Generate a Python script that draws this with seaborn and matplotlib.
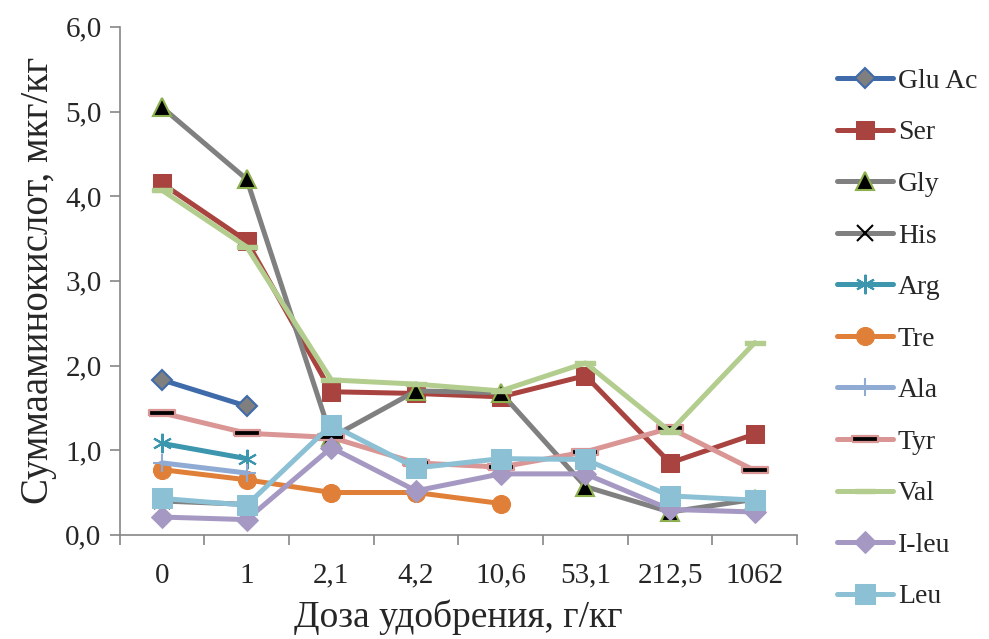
import numpy as np
import pandas as pd
import matplotlib
matplotlib.use("Agg")
import matplotlib.pyplot as plt
import seaborn as sns
from matplotlib.ticker import FuncFormatter, MultipleLocator, FixedLocator

# ---- data ----
doses = ["0", "1", "2,1", "4,2", "10,6", "53,1", "212,5", "1062"]
glu_ac = [1.83, 1.52]
ser = [4.15, 3.47, 1.69, 1.67, 1.63, 1.88, 0.85, 1.19]
gly = [5.05, 4.20, 1.15, 1.70, 1.68, 0.57, 0.27, 0.42]
his = [0.40, 0.36]
arg = [1.08, 0.90]
tre = [0.77, 0.65, 0.50, 0.50, 0.37]
ala = [0.85, 0.73]
tyr = [1.44, 1.20, 1.15, 0.85, 0.80, 0.98, 1.26, 0.76]
val = [4.07, 3.40, 1.83, 1.78, 1.70, 2.03, 1.22, 2.27]
ileu = [0.21, 0.18, 1.03, 0.52, 0.72, 0.72, 0.30, 0.27]
leu = [0.43, 0.35, 1.30, 0.79, 0.90, 0.89, 0.46, 0.41]

series_names = ["Glu Ac", "Ser", "Gly", "His", "Arg", "Tre", "Ala", "Tyr", "Val", "I-leu", "Leu"]
series_vals = [glu_ac, ser, gly, his, arg, tre, ala, tyr, val, ileu, leu]

sns.set_theme(style="white")
plt.rcParams['font.family'] = ['Liberation Serif', 'DejaVu Serif']

fig = plt.figure(figsize=(9.89, 6.39), dpi=100)
ax = fig.add_axes([0.121, 0.163, 0.685, 0.795])

bar_tyr = [(-1, -0.2), (1, -0.2), (1, 0.2), (-1, 0.2), (-1, -0.2)]
bar_val = [(-1, -0.17), (1, -0.17), (1, 0.17), (-1, 0.17), (-1, -0.17)]

styles = {
    "Glu Ac": dict(color="#3F6BAA", marker="D", markersize=10, markerfacecolor="#7F7F7F", markeredgecolor="#3F6BAA", markeredgewidth=1.5),
    "Ser":    dict(color="#A9433F", marker="s", markersize=13, markerfacecolor="#A9433F", markeredgecolor="#A9433F"),
    "Gly":    dict(color="#808080", marker="^", markersize=13, markerfacecolor="black", markeredgecolor="#8DB04E", markeredgewidth=1.5),
    "His":    dict(color="#808080", marker="x", markersize=11, markeredgecolor="black", markeredgewidth=1.5),
    "Arg":    dict(color="#3C96AD", marker=(6, 2, 0), markersize=14, markeredgecolor="#3C96AD", markeredgewidth=1.5),
    "Tre":    dict(color="#E07F37", marker="o", markersize=13, markerfacecolor="#E07F37", markeredgecolor="#E07F37"),
    "Ala":    dict(color="#8FAAD3", marker="+", markersize=13, markeredgecolor="#8FAAD3", markeredgewidth=1.5),
    "Tyr":    dict(color="#D99694", marker=bar_tyr, markersize=19, markerfacecolor="black", markeredgecolor="#D99694", markeredgewidth=1.6),
    "Val":    dict(color="#B3CD8E", marker=bar_val, markersize=15, markerfacecolor="#B3CD8E", markeredgecolor="#B3CD8E", markeredgewidth=1.0),
    "I-leu":  dict(color="#A599C3", marker="D", markersize=11, markerfacecolor="#A599C3", markeredgecolor="#A599C3"),
    "Leu":    dict(color="#8CC0D4", marker="s", markersize=14, markerfacecolor="#8CC0D4", markeredgecolor="#8CC0D4"),
}

for name, vals in zip(series_names, series_vals):
    df = pd.DataFrame({"x": np.arange(len(vals)), "y": vals})
    sns.lineplot(data=df, x="x", y="y", ax=ax, label=name, linewidth=3.6,
                 solid_capstyle="round", **styles[name])

ax.set_xlim(-0.5, len(doses) - 0.5)
ax.set_ylim(0, 6)
ax.set_xticks(np.arange(len(doses)))
ax.set_xticklabels(doses)
ax.xaxis.set_minor_locator(FixedLocator(np.arange(-0.5, len(doses), 1.0)))
ax.yaxis.set_major_locator(MultipleLocator(1))
ax.yaxis.set_major_formatter(FuncFormatter(lambda v, p: f"{v:.1f}".replace(".", ",")))

ax.tick_params(axis="x", which="major", length=0, labelsize=21, pad=20)
ax.tick_params(axis="x", which="minor", length=7, width=1.2, color="#868686", direction="out", bottom=True)
ax.tick_params(axis="y", which="major", length=7, width=1.2, color="#868686", direction="out", left=True, labelsize=21, pad=6)
for s in ["top", "right"]:
    ax.spines[s].set_visible(False)
for s in ["left", "bottom"]:
    ax.spines[s].set_color("#868686")
    ax.spines[s].set_linewidth(1.2)

ax.set_xlabel("Доза удобрения, г/кг", fontsize=27, labelpad=8)
ax.set_ylabel("Суммааминокислот, мкг/кг", fontsize=28, labelpad=6)
ax.grid(False)

leg = ax.legend(loc="upper left", bbox_to_anchor=(1.043, 0.94), frameon=False, fontsize=20,
                handlelength=2.0, handletextpad=0.18, labelspacing=0.94, borderaxespad=0)

fig.savefig("out.png", dpi=100)
